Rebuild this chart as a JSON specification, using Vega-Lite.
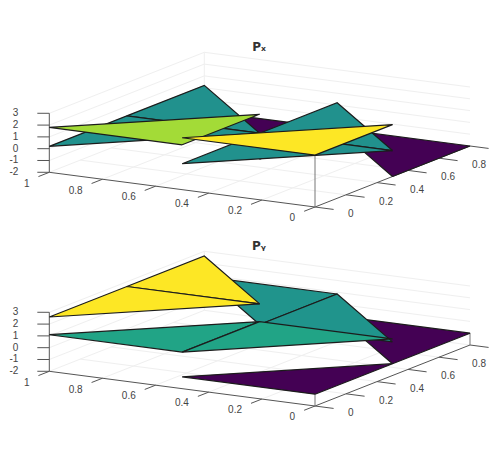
{
"$schema":"https://vega.github.io/schema/vega-lite/v6.json",
"padding":0,"spacing":0,"background":"white",
"config":{"view":{"stroke":null},"concat":{"spacing":0}},
"resolve":{"scale":{"fill":"independent"}},
"datasets":{"rows":[
{"panel":"both","part":"grid","seg":"a0","i":0,"x":0.2,"y":0,"z":-2},{"panel":"both","part":"grid","seg":"a0","i":1,"x":0.2,"y":1,"z":-2},
{"panel":"both","part":"grid","seg":"a1","i":0,"x":0.4,"y":0,"z":-2},{"panel":"both","part":"grid","seg":"a1","i":1,"x":0.4,"y":1,"z":-2},
{"panel":"both","part":"grid","seg":"a2","i":0,"x":0.6,"y":0,"z":-2},{"panel":"both","part":"grid","seg":"a2","i":1,"x":0.6,"y":1,"z":-2},
{"panel":"both","part":"grid","seg":"a3","i":0,"x":0.8,"y":0,"z":-2},{"panel":"both","part":"grid","seg":"a3","i":1,"x":0.8,"y":1,"z":-2},
{"panel":"both","part":"grid","seg":"a4","i":0,"x":1,"y":0,"z":-2},{"panel":"both","part":"grid","seg":"a4","i":1,"x":1,"y":1,"z":-2},
{"panel":"both","part":"grid","seg":"b0","i":0,"x":0,"y":0.2,"z":-2},{"panel":"both","part":"grid","seg":"b0","i":1,"x":1,"y":0.2,"z":-2},
{"panel":"both","part":"grid","seg":"b1","i":0,"x":0,"y":0.4,"z":-2},{"panel":"both","part":"grid","seg":"b1","i":1,"x":1,"y":0.4,"z":-2},
{"panel":"both","part":"grid","seg":"b2","i":0,"x":0,"y":0.6,"z":-2},{"panel":"both","part":"grid","seg":"b2","i":1,"x":1,"y":0.6,"z":-2},
{"panel":"both","part":"grid","seg":"b3","i":0,"x":0,"y":0.8,"z":-2},{"panel":"both","part":"grid","seg":"b3","i":1,"x":1,"y":0.8,"z":-2},
{"panel":"both","part":"grid","seg":"b4","i":0,"x":0,"y":1,"z":-2},{"panel":"both","part":"grid","seg":"b4","i":1,"x":1,"y":1,"z":-2},
{"panel":"both","part":"grid","seg":"c0","i":0,"x":1,"y":0,"z":-1},{"panel":"both","part":"grid","seg":"c0","i":1,"x":1,"y":1,"z":-1},{"panel":"both","part":"grid","seg":"c0","i":2,"x":0,"y":1,"z":-1},
{"panel":"both","part":"grid","seg":"c1","i":0,"x":1,"y":0,"z":0},{"panel":"both","part":"grid","seg":"c1","i":1,"x":1,"y":1,"z":0},{"panel":"both","part":"grid","seg":"c1","i":2,"x":0,"y":1,"z":0},
{"panel":"both","part":"grid","seg":"c2","i":0,"x":1,"y":0,"z":1},{"panel":"both","part":"grid","seg":"c2","i":1,"x":1,"y":1,"z":1},{"panel":"both","part":"grid","seg":"c2","i":2,"x":0,"y":1,"z":1},
{"panel":"both","part":"grid","seg":"c3","i":0,"x":1,"y":0,"z":2},{"panel":"both","part":"grid","seg":"c3","i":1,"x":1,"y":1,"z":2},{"panel":"both","part":"grid","seg":"c3","i":2,"x":0,"y":1,"z":2},
{"panel":"both","part":"grid","seg":"c4","i":0,"x":1,"y":0,"z":3},{"panel":"both","part":"grid","seg":"c4","i":1,"x":1,"y":1,"z":3},{"panel":"both","part":"grid","seg":"c4","i":2,"x":0,"y":1,"z":3},
{"panel":"both","part":"grid","seg":"c5","i":0,"x":1,"y":1,"z":-2},{"panel":"both","part":"grid","seg":"c5","i":1,"x":1,"y":1,"z":3},

{"panel":"both","part":"axis","seg":"xa","i":0,"x":0,"y":0,"z":-2},{"panel":"both","part":"axis","seg":"xa","i":1,"x":1,"y":0,"z":-2},
{"panel":"both","part":"axis","seg":"ya","i":0,"x":0,"y":0,"z":-2},{"panel":"both","part":"axis","seg":"ya","i":1,"x":0,"y":1,"z":-2},
{"panel":"both","part":"axis","seg":"za","i":0,"x":1,"y":0,"z":-2},{"panel":"both","part":"axis","seg":"za","i":1,"x":1,"y":0,"z":3},
{"panel":"both","part":"axis","seg":"xt0","i":0,"x":0,"y":0,"z":-2},{"panel":"both","part":"axis","seg":"xt0","i":1,"x":0,"y":-0.07,"z":-2},
{"panel":"both","part":"axis","seg":"xt1","i":0,"x":0.2,"y":0,"z":-2},{"panel":"both","part":"axis","seg":"xt1","i":1,"x":0.2,"y":-0.07,"z":-2},
{"panel":"both","part":"axis","seg":"xt2","i":0,"x":0.4,"y":0,"z":-2},{"panel":"both","part":"axis","seg":"xt2","i":1,"x":0.4,"y":-0.07,"z":-2},
{"panel":"both","part":"axis","seg":"xt3","i":0,"x":0.6,"y":0,"z":-2},{"panel":"both","part":"axis","seg":"xt3","i":1,"x":0.6,"y":-0.07,"z":-2},
{"panel":"both","part":"axis","seg":"xt4","i":0,"x":0.8,"y":0,"z":-2},{"panel":"both","part":"axis","seg":"xt4","i":1,"x":0.8,"y":-0.07,"z":-2},
{"panel":"both","part":"axis","seg":"xt5","i":0,"x":1,"y":0,"z":-2},{"panel":"both","part":"axis","seg":"xt5","i":1,"x":1,"y":-0.07,"z":-2},
{"panel":"both","part":"axis","seg":"yt0","i":0,"x":0,"y":0,"z":-2},{"panel":"both","part":"axis","seg":"yt0","i":1,"x":-0.07,"y":0,"z":-2},
{"panel":"both","part":"axis","seg":"yt1","i":0,"x":0,"y":0.2,"z":-2},{"panel":"both","part":"axis","seg":"yt1","i":1,"x":-0.07,"y":0.2,"z":-2},
{"panel":"both","part":"axis","seg":"yt2","i":0,"x":0,"y":0.4,"z":-2},{"panel":"both","part":"axis","seg":"yt2","i":1,"x":-0.07,"y":0.4,"z":-2},
{"panel":"both","part":"axis","seg":"yt3","i":0,"x":0,"y":0.6,"z":-2},{"panel":"both","part":"axis","seg":"yt3","i":1,"x":-0.07,"y":0.6,"z":-2},
{"panel":"both","part":"axis","seg":"yt4","i":0,"x":0,"y":0.8,"z":-2},{"panel":"both","part":"axis","seg":"yt4","i":1,"x":-0.07,"y":0.8,"z":-2},
{"panel":"both","part":"axis","seg":"yt5","i":0,"x":0,"y":1,"z":-2},{"panel":"both","part":"axis","seg":"yt5","i":1,"x":-0.07,"y":1,"z":-2},
{"panel":"both","part":"axis","seg":"zt0","i":0,"x":1,"y":0,"z":-2},{"panel":"both","part":"axis","seg":"zt0","i":1,"x":1.034,"y":-0.019,"z":-2},
{"panel":"both","part":"axis","seg":"zt1","i":0,"x":1,"y":0,"z":-1},{"panel":"both","part":"axis","seg":"zt1","i":1,"x":1.034,"y":-0.019,"z":-1},
{"panel":"both","part":"axis","seg":"zt2","i":0,"x":1,"y":0,"z":0},{"panel":"both","part":"axis","seg":"zt2","i":1,"x":1.034,"y":-0.019,"z":0},
{"panel":"both","part":"axis","seg":"zt3","i":0,"x":1,"y":0,"z":1},{"panel":"both","part":"axis","seg":"zt3","i":1,"x":1.034,"y":-0.019,"z":1},
{"panel":"both","part":"axis","seg":"zt4","i":0,"x":1,"y":0,"z":2},{"panel":"both","part":"axis","seg":"zt4","i":1,"x":1.034,"y":-0.019,"z":2},
{"panel":"both","part":"axis","seg":"zt5","i":0,"x":1,"y":0,"z":3},{"panel":"both","part":"axis","seg":"zt5","i":1,"x":1.034,"y":-0.019,"z":3},

{"panel":"both","part":"xlabel","label":"0","x":0,"y":-0.07,"z":-2},{"panel":"both","part":"xlabel","label":"0.2","x":0.2,"y":-0.07,"z":-2},{"panel":"both","part":"xlabel","label":"0.4","x":0.4,"y":-0.07,"z":-2},{"panel":"both","part":"xlabel","label":"0.6","x":0.6,"y":-0.07,"z":-2},{"panel":"both","part":"xlabel","label":"0.8","x":0.8,"y":-0.07,"z":-2},{"panel":"both","part":"xlabel","label":"1","x":1,"y":-0.07,"z":-2},
{"panel":"both","part":"ylabel","label":"0","x":-0.07,"y":0,"z":-2},{"panel":"both","part":"ylabel","label":"0.2","x":-0.07,"y":0.2,"z":-2},{"panel":"both","part":"ylabel","label":"0.4","x":-0.07,"y":0.4,"z":-2},{"panel":"both","part":"ylabel","label":"0.6","x":-0.07,"y":0.6,"z":-2},{"panel":"both","part":"ylabel","label":"0.8","x":-0.07,"y":0.8,"z":-2},
{"panel":"both","part":"zlabel","label":"-2","x":1.034,"y":-0.019,"z":-2},{"panel":"both","part":"zlabel","label":"-1","x":1.034,"y":-0.019,"z":-1},{"panel":"both","part":"zlabel","label":"0","x":1.034,"y":-0.019,"z":0},{"panel":"both","part":"zlabel","label":"1","x":1.034,"y":-0.019,"z":1},{"panel":"both","part":"zlabel","label":"2","x":1.034,"y":-0.019,"z":2},{"panel":"both","part":"zlabel","label":"3","x":1.034,"y":-0.019,"z":3},

{"panel":"Px","part":"edge","seg":"e0","i":0,"x":0,"y":0,"z":-2},{"panel":"Px","part":"edge","seg":"e0","i":1,"x":0,"y":0,"z":2.4},
{"panel":"Py","part":"edge","seg":"e1","i":0,"x":0,"y":0,"z":-2},{"panel":"Py","part":"edge","seg":"e1","i":1,"x":0,"y":0,"z":-1},
{"panel":"Py","part":"edge","seg":"e2","i":0,"x":0,"y":1,"z":-2},{"panel":"Py","part":"edge","seg":"e2","i":1,"x":0,"y":1,"z":-1},

{"panel":"Px","part":"surface","seg":"t8","i":0,"x":0.5,"y":0.5,"z":-2},{"panel":"Px","part":"surface","seg":"t8","i":1,"x":1,"y":1,"z":-2},{"panel":"Px","part":"surface","seg":"t8","i":2,"x":0.5,"y":1,"z":-2},{"panel":"Px","part":"surface","seg":"t8","i":3,"x":0.5,"y":0.5,"z":-2},
{"panel":"Px","part":"surface","seg":"t4","i":0,"x":0,"y":0.5,"z":-2},{"panel":"Px","part":"surface","seg":"t4","i":1,"x":0.5,"y":1,"z":-2},{"panel":"Px","part":"surface","seg":"t4","i":2,"x":0,"y":1,"z":-2},{"panel":"Px","part":"surface","seg":"t4","i":3,"x":0,"y":0.5,"z":-2},
{"panel":"Px","part":"surface","seg":"t7","i":0,"x":0.5,"y":0.5,"z":0.2},{"panel":"Px","part":"surface","seg":"t7","i":1,"x":1,"y":0.5,"z":0.2},{"panel":"Px","part":"surface","seg":"t7","i":2,"x":1,"y":1,"z":0.2},{"panel":"Px","part":"surface","seg":"t7","i":3,"x":0.5,"y":0.5,"z":0.2},
{"panel":"Px","part":"surface","seg":"t6","i":0,"x":1,"y":0,"z":0.2},{"panel":"Px","part":"surface","seg":"t6","i":1,"x":1,"y":0.5,"z":0.2},{"panel":"Px","part":"surface","seg":"t6","i":2,"x":0.5,"y":0.5,"z":0.2},{"panel":"Px","part":"surface","seg":"t6","i":3,"x":1,"y":0,"z":0.2},
{"panel":"Px","part":"surface","seg":"t3","i":0,"x":0,"y":0.5,"z":0.2},{"panel":"Px","part":"surface","seg":"t3","i":1,"x":0.5,"y":0.5,"z":0.2},{"panel":"Px","part":"surface","seg":"t3","i":2,"x":0.5,"y":1,"z":0.2},{"panel":"Px","part":"surface","seg":"t3","i":3,"x":0,"y":0.5,"z":0.2},
{"panel":"Px","part":"surface","seg":"t2","i":0,"x":0.5,"y":0,"z":0.2},{"panel":"Px","part":"surface","seg":"t2","i":1,"x":0.5,"y":0.5,"z":0.2},{"panel":"Px","part":"surface","seg":"t2","i":2,"x":0,"y":0.5,"z":0.2},{"panel":"Px","part":"surface","seg":"t2","i":3,"x":0.5,"y":0,"z":0.2},
{"panel":"Px","part":"surface","seg":"t5","i":0,"x":0.5,"y":0,"z":1.8},{"panel":"Px","part":"surface","seg":"t5","i":1,"x":1,"y":0,"z":1.8},{"panel":"Px","part":"surface","seg":"t5","i":2,"x":0.5,"y":0.5,"z":1.8},{"panel":"Px","part":"surface","seg":"t5","i":3,"x":0.5,"y":0,"z":1.8},
{"panel":"Px","part":"surface","seg":"t1","i":0,"x":0,"y":0,"z":2.4},{"panel":"Px","part":"surface","seg":"t1","i":1,"x":0.5,"y":0,"z":2.4},{"panel":"Px","part":"surface","seg":"t1","i":2,"x":0,"y":0.5,"z":2.4},{"panel":"Px","part":"surface","seg":"t1","i":3,"x":0,"y":0,"z":2.4},

{"panel":"Py","part":"surface","seg":"t4","i":0,"x":0,"y":0.5,"z":-1},{"panel":"Py","part":"surface","seg":"t4","i":1,"x":0.5,"y":1,"z":-1},{"panel":"Py","part":"surface","seg":"t4","i":2,"x":0,"y":1,"z":-1},{"panel":"Py","part":"surface","seg":"t4","i":3,"x":0,"y":0.5,"z":-1},
{"panel":"Py","part":"surface","seg":"t1","i":0,"x":0,"y":0,"z":-1},{"panel":"Py","part":"surface","seg":"t1","i":1,"x":0.5,"y":0,"z":-1},{"panel":"Py","part":"surface","seg":"t1","i":2,"x":0,"y":0.5,"z":-1},{"panel":"Py","part":"surface","seg":"t1","i":3,"x":0,"y":0,"z":-1},
{"panel":"Py","part":"surface","seg":"t8","i":0,"x":0.5,"y":0.5,"z":0.85},{"panel":"Py","part":"surface","seg":"t8","i":1,"x":1,"y":1,"z":0.85},{"panel":"Py","part":"surface","seg":"t8","i":2,"x":0.5,"y":1,"z":0.85},{"panel":"Py","part":"surface","seg":"t8","i":3,"x":0.5,"y":0.5,"z":0.85},
{"panel":"Py","part":"surface","seg":"t3","i":0,"x":0,"y":0.5,"z":0.85},{"panel":"Py","part":"surface","seg":"t3","i":1,"x":0.5,"y":0.5,"z":0.85},{"panel":"Py","part":"surface","seg":"t3","i":2,"x":0.5,"y":1,"z":0.85},{"panel":"Py","part":"surface","seg":"t3","i":3,"x":0,"y":0.5,"z":0.85},
{"panel":"Py","part":"surface","seg":"t5","i":0,"x":0.5,"y":0,"z":1.1},{"panel":"Py","part":"surface","seg":"t5","i":1,"x":1,"y":0,"z":1.1},{"panel":"Py","part":"surface","seg":"t5","i":2,"x":0.5,"y":0.5,"z":1.1},{"panel":"Py","part":"surface","seg":"t5","i":3,"x":0.5,"y":0,"z":1.1},
{"panel":"Py","part":"surface","seg":"t2","i":0,"x":0.5,"y":0,"z":1.1},{"panel":"Py","part":"surface","seg":"t2","i":1,"x":0.5,"y":0.5,"z":1.1},{"panel":"Py","part":"surface","seg":"t2","i":2,"x":0,"y":0.5,"z":1.1},{"panel":"Py","part":"surface","seg":"t2","i":3,"x":0.5,"y":0,"z":1.1},
{"panel":"Py","part":"surface","seg":"t7","i":0,"x":0.5,"y":0.5,"z":2.6},{"panel":"Py","part":"surface","seg":"t7","i":1,"x":1,"y":0.5,"z":2.6},{"panel":"Py","part":"surface","seg":"t7","i":2,"x":1,"y":1,"z":2.6},{"panel":"Py","part":"surface","seg":"t7","i":3,"x":0.5,"y":0.5,"z":2.6},
{"panel":"Py","part":"surface","seg":"t6","i":0,"x":1,"y":0,"z":2.6},{"panel":"Py","part":"surface","seg":"t6","i":1,"x":1,"y":0.5,"z":2.6},{"panel":"Py","part":"surface","seg":"t6","i":2,"x":0.5,"y":0.5,"z":2.6},{"panel":"Py","part":"surface","seg":"t6","i":3,"x":1,"y":0,"z":2.6}
]},
"vconcat":[
{"width":500,"height":228,
"title":{"text":"Pₓ","font":"DejaVu Sans","fontSize":12,"fontWeight":"bold","color":"#333333","offset":-54,"dx":9,"frame":"group"},
"data":{"name":"rows"},
"transform":[{"filter":"datum.panel=='both'||datum.panel=='Px'"},
{"calculate":"315-265.7*datum.x+155*datum.y","as":"sx"},
{"calculate":"207-34.7*datum.x-61*datum.y-11.8*(datum.z+2)","as":"sy"}],
"encoding":{"x":{"field":"sx","type":"quantitative","scale":{"domain":[0,500],"nice":false,"zero":false},"axis":null},
"y":{"field":"sy","type":"quantitative","scale":{"domain":[228,0],"nice":false,"zero":false},"axis":null}},
"layer":[
{"transform":[{"filter":"datum.part=='grid'"}],"mark":{"type":"line","stroke":"#efefef","strokeWidth":1},"encoding":{"detail":{"field":"seg"},"order":{"field":"i"}}},
{"transform":[{"filter":"datum.part=='axis'"}],"mark":{"type":"line","stroke":"#555555","strokeWidth":1},"encoding":{"detail":{"field":"seg"},"order":{"field":"i"}}},
{"transform":[{"filter":"datum.part=='edge'"}],"mark":{"type":"line","stroke":"#777777","strokeWidth":1},"encoding":{"detail":{"field":"seg"},"order":{"field":"i"}}},
{"transform":[{"filter":"datum.part=='surface'"}],"mark":{"type":"line","stroke":"#1c1c1c","strokeWidth":1.2,"strokeJoin":"miter"},"encoding":{"detail":{"field":"seg"},"order":{"field":"i"},"fill":{"field":"z","type":"quantitative","scale":{"scheme":"viridis","domain":[-2,2.4]},"legend":null}}},
{"transform":[{"filter":"datum.part=='xlabel'"}],"mark":{"type":"text","align":"right","baseline":"middle","dx":-9,"dy":7,"font":"Liberation Sans","fontSize":10,"color":"#444444"},"encoding":{"text":{"field":"label"}}},
{"transform":[{"filter":"datum.part=='ylabel'"}],"mark":{"type":"text","align":"left","baseline":"middle","dx":14.5,"dy":4.6,"font":"Liberation Sans","fontSize":10,"color":"#444444"},"encoding":{"text":{"field":"label"}}},
{"transform":[{"filter":"datum.part=='zlabel'"}],"mark":{"type":"text","align":"right","baseline":"middle","dx":-19,"dy":0,"font":"Liberation Sans","fontSize":10,"color":"#444444"},"encoding":{"text":{"field":"label"}}}
]},
{"width":500,"height":228,
"title":{"text":"Pᵧ","font":"DejaVu Sans","fontSize":12,"fontWeight":"bold","color":"#333333","offset":-25,"dx":9,"frame":"group"},
"data":{"name":"rows"},
"transform":[{"filter":"datum.panel=='both'||datum.panel=='Py'"},
{"calculate":"315-265.7*datum.x+155*datum.y","as":"sx"},
{"calculate":"178-34.7*datum.x-61*datum.y-11.8*(datum.z+2)","as":"sy"}],
"encoding":{"x":{"field":"sx","type":"quantitative","scale":{"domain":[0,500],"nice":false,"zero":false},"axis":null},
"y":{"field":"sy","type":"quantitative","scale":{"domain":[228,0],"nice":false,"zero":false},"axis":null}},
"layer":[
{"transform":[{"filter":"datum.part=='grid'"}],"mark":{"type":"line","stroke":"#efefef","strokeWidth":1},"encoding":{"detail":{"field":"seg"},"order":{"field":"i"}}},
{"transform":[{"filter":"datum.part=='axis'"}],"mark":{"type":"line","stroke":"#555555","strokeWidth":1},"encoding":{"detail":{"field":"seg"},"order":{"field":"i"}}},
{"transform":[{"filter":"datum.part=='edge'"}],"mark":{"type":"line","stroke":"#777777","strokeWidth":1},"encoding":{"detail":{"field":"seg"},"order":{"field":"i"}}},
{"transform":[{"filter":"datum.part=='surface'"}],"mark":{"type":"line","stroke":"#1c1c1c","strokeWidth":1.2,"strokeJoin":"miter"},"encoding":{"detail":{"field":"seg"},"order":{"field":"i"},"fill":{"field":"z","type":"quantitative","scale":{"scheme":"viridis","domain":[-1,2.6]},"legend":null}}},
{"transform":[{"filter":"datum.part=='xlabel'"}],"mark":{"type":"text","align":"right","baseline":"middle","dx":-9,"dy":7,"font":"Liberation Sans","fontSize":10,"color":"#444444"},"encoding":{"text":{"field":"label"}}},
{"transform":[{"filter":"datum.part=='ylabel'"}],"mark":{"type":"text","align":"left","baseline":"middle","dx":14.5,"dy":4.6,"font":"Liberation Sans","fontSize":10,"color":"#444444"},"encoding":{"text":{"field":"label"}}},
{"transform":[{"filter":"datum.part=='zlabel'"}],"mark":{"type":"text","align":"right","baseline":"middle","dx":-19,"dy":0,"font":"Liberation Sans","fontSize":10,"color":"#444444"},"encoding":{"text":{"field":"label"}}}
]}
]}
